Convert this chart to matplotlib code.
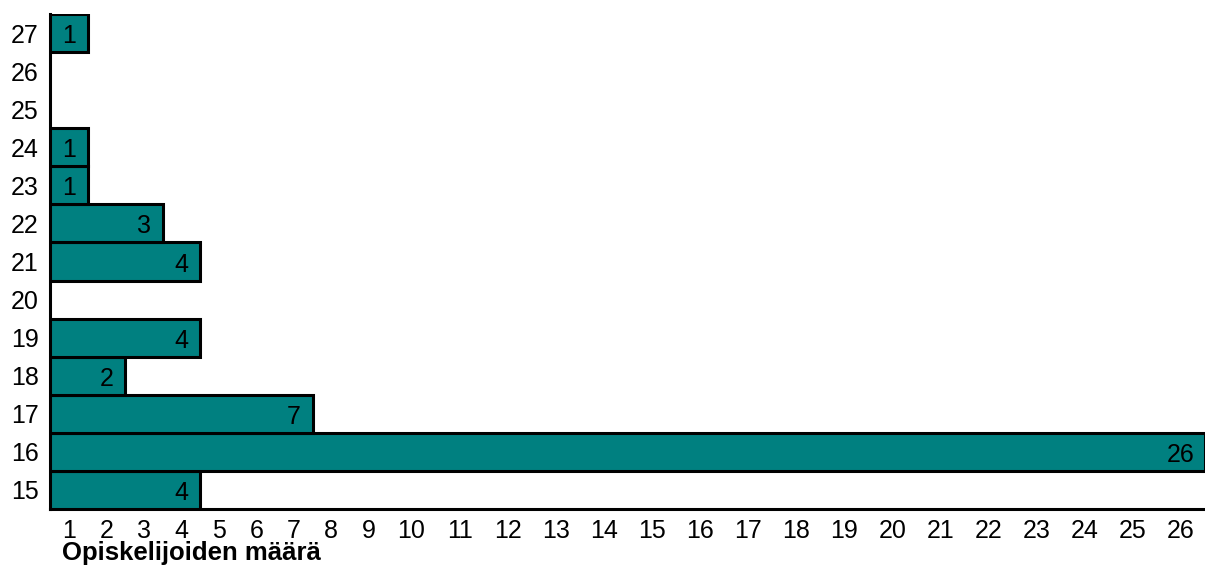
import numpy as np
import matplotlib
matplotlib.use("Agg")
import matplotlib.pyplot as plt

plt.rcParams['font.family'] = ['Liberation Sans', 'DejaVu Sans']

ages = [15, 16, 17, 18, 19, 20, 21, 22, 23, 24, 25, 26, 27]
counts = [4, 26, 7, 2, 4, 0, 4, 3, 1, 1, 0, 0, 1]
xtick_labels = [str(i) for i in range(1, 27)]
xlabel = "Opiskelijoiden määrä"

W, H = 1205, 574
fig = plt.figure(figsize=(W / 100, H / 100), dpi=100)
ax = fig.add_axes([50 / W, (H - 509) / H, (W - 50) / W, (509 - 14) / H])

# piecewise-linear x scale reproducing the original's uneven axis
S1 = 37.5
S2 = (1155 - 9 * S1) / 17.0


def fwd(x):
    x = np.asarray(x, dtype=float)
    return np.where(x <= 9, x * S1, 9 * S1 + (x - 9) * S2)


def inv(y):
    y = np.asarray(y, dtype=float)
    return np.where(y <= 9 * S1, y / S1, 9 + (y - 9 * S1) / S2)


ax.set_xscale('function', functions=(fwd, inv))

FS = 18
teal = '#008080'
for a, c in zip(ages, counts):
    if c <= 0:
        continue
    ax.barh(a, c, height=1.0, left=0, color=teal, edgecolor='black',
            linewidth=2.2, zorder=3)
    ax.text(c - 0.5, a - 0.08, str(c), ha='center', va='center', fontsize=FS,
            color='black', zorder=5)

ax.set_xlim(0, 26)
ax.set_ylim(14.5, 27.5)
ax.set_yticks(ages)
ax.set_yticklabels([str(a) for a in ages], fontsize=FS)
ax.set_xticks(np.arange(1, 27) - 0.5)
ax.set_xticklabels(xtick_labels, fontsize=FS)
ax.tick_params(axis='both', length=0)
ax.tick_params(axis='y', pad=8)
ax.tick_params(axis='x', pad=7)

for s in ['top', 'right']:
    ax.spines[s].set_visible(False)
ax.spines['left'].set_linewidth(2.2)
ax.spines['bottom'].set_linewidth(2.2)

fig.text(62 / W, 1 - 553 / H, xlabel, fontsize=18.5, fontweight='bold',
         ha='left', va='center')

fig.savefig('out.png', dpi=100)
